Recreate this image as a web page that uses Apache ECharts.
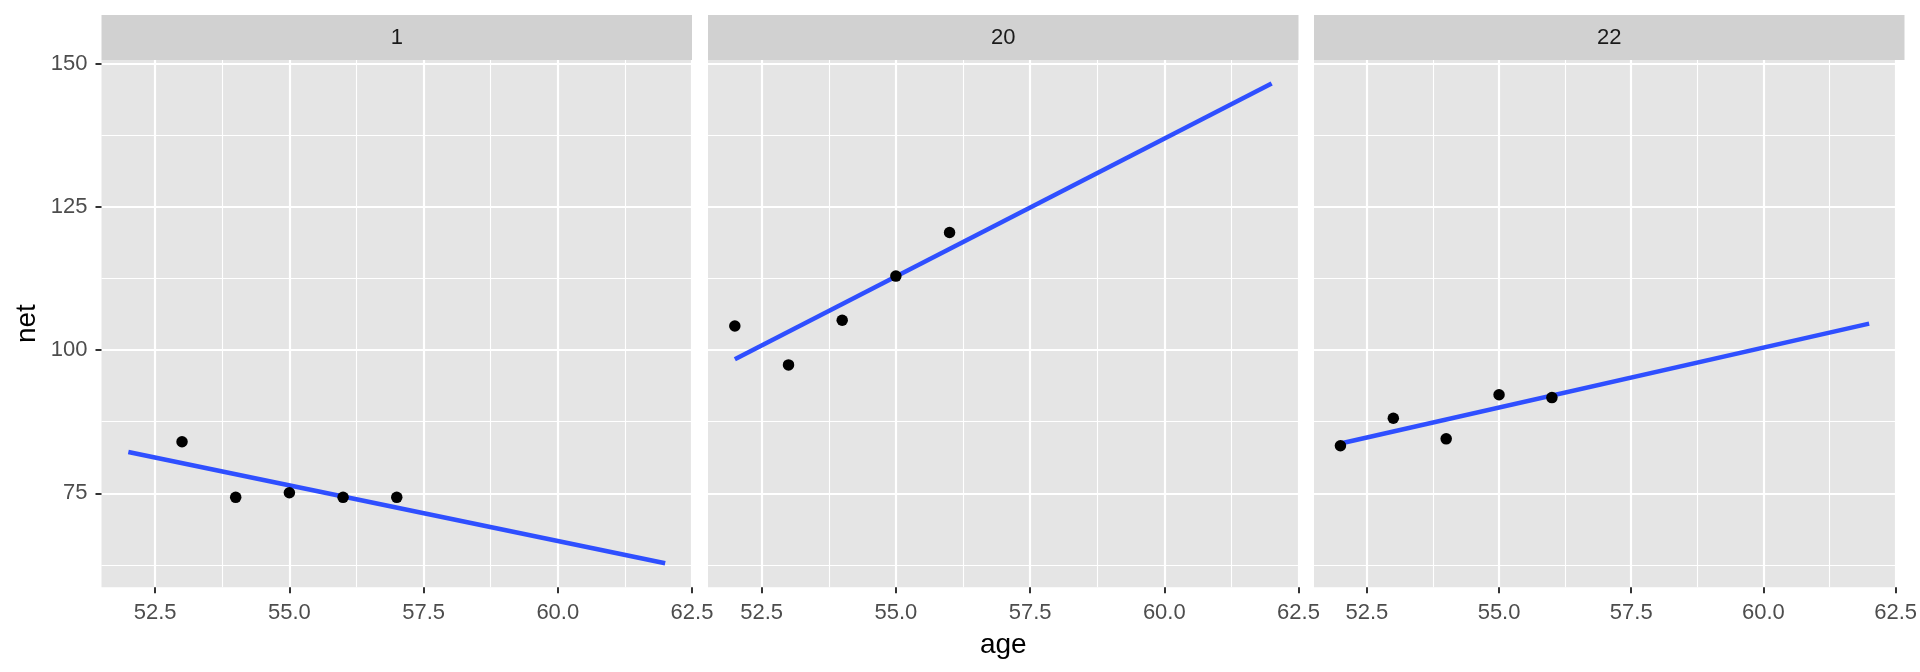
<!DOCTYPE html>
<html>
<head>
<meta charset="utf-8">
<script src="https://cdn.jsdelivr.net/npm/echarts@6/dist/echarts.min.js"></script>
<style>
html,body{margin:0;padding:0;background:#fff;}
#chart{width:1920px;height:672px;}
</style>
</head>
<body>
<div id="chart"></div>
<script>
// ---- data ----
const facets = ['1', '20', '22'];
const ages1 = [53, 54, 55, 56, 57];
const net1 = [84.0, 74.3, 75.1, 74.3, 74.3];
const ages20 = [52, 53, 54, 55, 56];
const net20 = [104.2, 97.4, 105.2, 112.9, 120.5];
const ages22 = [52, 53, 54, 55, 56];
const net22 = [83.3, 88.1, 84.5, 92.2, 91.7];
const fitAges = [52, 62];
const fit1 = [82.2, 62.8];
const fit20 = [98.4, 146.5];
const fit22 = [83.7, 104.6];
const xTicks = [52.5, 55, 57.5, 60, 62.5];
const xMinor = [53.75, 56.25, 58.75, 61.25];
const yTicks = [75, 100, 125, 150];
const yMinor = [62.5, 87.5, 112.5, 137.5];

const facetAges = [ages1, ages20, ages22];
const facetNet = [net1, net20, net22];
const facetFit = [fit1, fit20, fit22];

// ---- layout ----
const FONT = 'Liberation Sans, Arial, sans-serif';
const lefts = [101.5, 708, 1314];
const gw = 590.5, gtop = 60, gh = 527.3;

const grids = [], xAxes = [], yAxes = [], series = [], graphics = [];
facets.forEach((f, i) => {
  grids.push({left: lefts[i], top: gtop, width: gw, height: gh, show: true,
    backgroundColor: '#E5E5E5', borderWidth: 0, containLabel: false});
  xAxes.push({
    type: 'value', gridIndex: i, min: 51.5, max: 62.5,
    axisLine: {show: false},
    axisTick: {show: true, customValues: xTicks, length: 6, lineStyle: {color: '#333333', width: 2}},
    axisLabel: {customValues: xTicks, formatter: v => v.toFixed(1), color: '#4D4D4D',
      fontSize: 22, margin: 15, fontFamily: FONT},
    splitLine: {show: true, lineStyle: {color: '#FFFFFF', width: 2.2}},
    name: i === 1 ? 'age' : '', nameLocation: 'middle', nameGap: 44,
    nameTextStyle: {fontSize: 28, color: '#000000', fontFamily: FONT}
  });
  yAxes.push({
    type: 'value', gridIndex: i, min: 58.6, max: 150.6,
    axisLine: {show: false},
    axisTick: {show: i === 0, customValues: yTicks, length: 6, lineStyle: {color: '#333333', width: 2}},
    axisLabel: {show: i === 0, customValues: yTicks, color: '#4D4D4D', fontSize: 22, margin: 14, fontFamily: FONT},
    splitLine: {show: true, lineStyle: {color: '#FFFFFF', width: 2.2}},
    name: i === 0 ? 'net' : '', nameLocation: 'middle', nameGap: 60,
    nameTextStyle: {fontSize: 28, color: '#000000', fontFamily: FONT}
  });
  // minor grid lines
  series.push({
    type: 'line', xAxisIndex: i, yAxisIndex: i, data: [], z: 1, silent: true,
    markLine: {
      z: 1, silent: true, symbol: ['none', 'none'], animation: false,
      label: {show: false}, emphasis: {disabled: true},
      lineStyle: {color: '#FFFFFF', width: 1.1, type: 'solid'},
      data: xMinor.map(v => ({xAxis: v})).concat(yMinor.map(v => ({yAxis: v})))
    }
  });
  series.push({
    type: 'line', xAxisIndex: i, yAxisIndex: i, z: 3, silent: true,
    showSymbol: false, symbol: 'none',
    lineStyle: {color: '#2F4FFF', width: 4.5},
    data: fitAges.map((a, k) => [a, facetFit[i][k]])
  });
  series.push({
    type: 'scatter', xAxisIndex: i, yAxisIndex: i, z: 4, silent: true,
    symbolSize: 11.5, itemStyle: {color: '#000000', opacity: 1},
    data: facetAges[i].map((a, k) => [a, facetNet[i][k]])
  });
  graphics.push({type: 'rect', left: lefts[i], top: 15, shape: {width: gw, height: 45},
    style: {fill: '#D1D1D1'}, silent: true});
  graphics.push({type: 'text', x: lefts[i] + gw / 2, y: 38, silent: true,
    style: {text: f, fill: '#1A1A1A', fontSize: 22, fontFamily: FONT, align: 'center', verticalAlign: 'middle'}});
});

const chart = echarts.init(document.getElementById('chart'), null, {renderer: 'canvas'});
chart.setOption({
  animation: false,
  backgroundColor: '#FFFFFF',
  grid: grids, xAxis: xAxes, yAxis: yAxes, series: series, graphic: graphics
});
</script>
</body>
</html>
